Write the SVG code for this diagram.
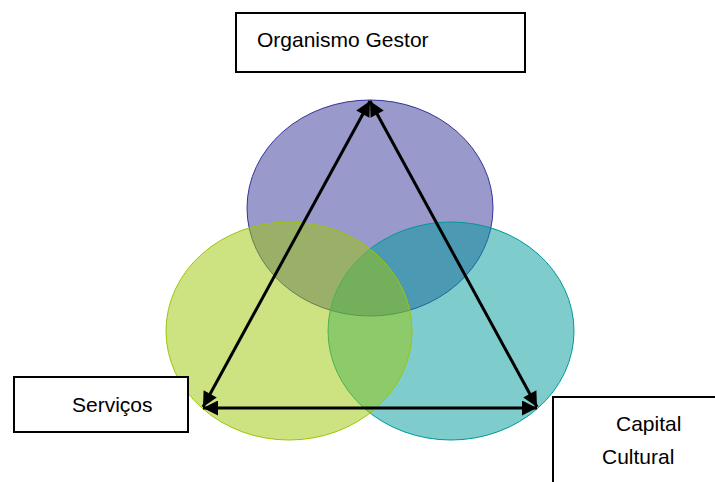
<svg xmlns="http://www.w3.org/2000/svg" width="715" height="482" viewBox="0 0 715 482">
<style>
.box{fill:#fff;stroke:#000;stroke-width:2}
.lbl{font-family:"Liberation Sans",Arial,sans-serif;font-size:21px;fill:#000}
.edge{stroke:#000;stroke-width:3;fill:none;marker-start:url(#ah);marker-end:url(#ah)}
</style>
<defs>
<marker id="ah" viewBox="0 0 10 10" refX="10" refY="5" markerUnits="userSpaceOnUse" markerWidth="16" markerHeight="15" orient="auto-start-reverse">
<path d="M0,0 L10,5 L0,10 Z" fill="#000"/>
</marker>
</defs>
<rect width="715" height="482" fill="#fff"/>
<g id="circles">
<ellipse id="c-purple" cx="370" cy="208" rx="123" ry="108" fill="#333399" fill-opacity="0.5" stroke="#333399" stroke-width="1"/>
<ellipse id="c-teal" cx="451" cy="331" rx="123" ry="109" fill="#009999" fill-opacity="0.5" stroke="#009999" stroke-width="1"/>
<ellipse id="c-green" cx="289" cy="331" rx="123" ry="109" fill="#9bc705" fill-opacity="0.5" stroke="#9bc705" stroke-width="1"/>
</g>
<g id="connectors">
<line class="edge" x1="370" y1="101" x2="203" y2="407"/>
<line class="edge" x1="370" y1="101" x2="537" y2="407"/>
<line class="edge" x1="203" y1="408" x2="537" y2="408"/>
</g>
<g id="organismo-gestor">
<rect class="box" x="236" y="13" width="289" height="59"/>
<text class="lbl" x="257" y="47">Organismo Gestor</text>
</g>
<g id="servicos">
<rect class="box" x="14" y="377" width="174" height="55"/>
<text class="lbl" x="72" y="412">Serviços</text>
</g>
<g id="capital-cultural">
<rect class="box" x="553" y="397" width="180" height="100"/>
<text class="lbl" x="616" y="431">Capital</text>
<text class="lbl" x="602" y="464">Cultural</text>
</g>
</svg>
